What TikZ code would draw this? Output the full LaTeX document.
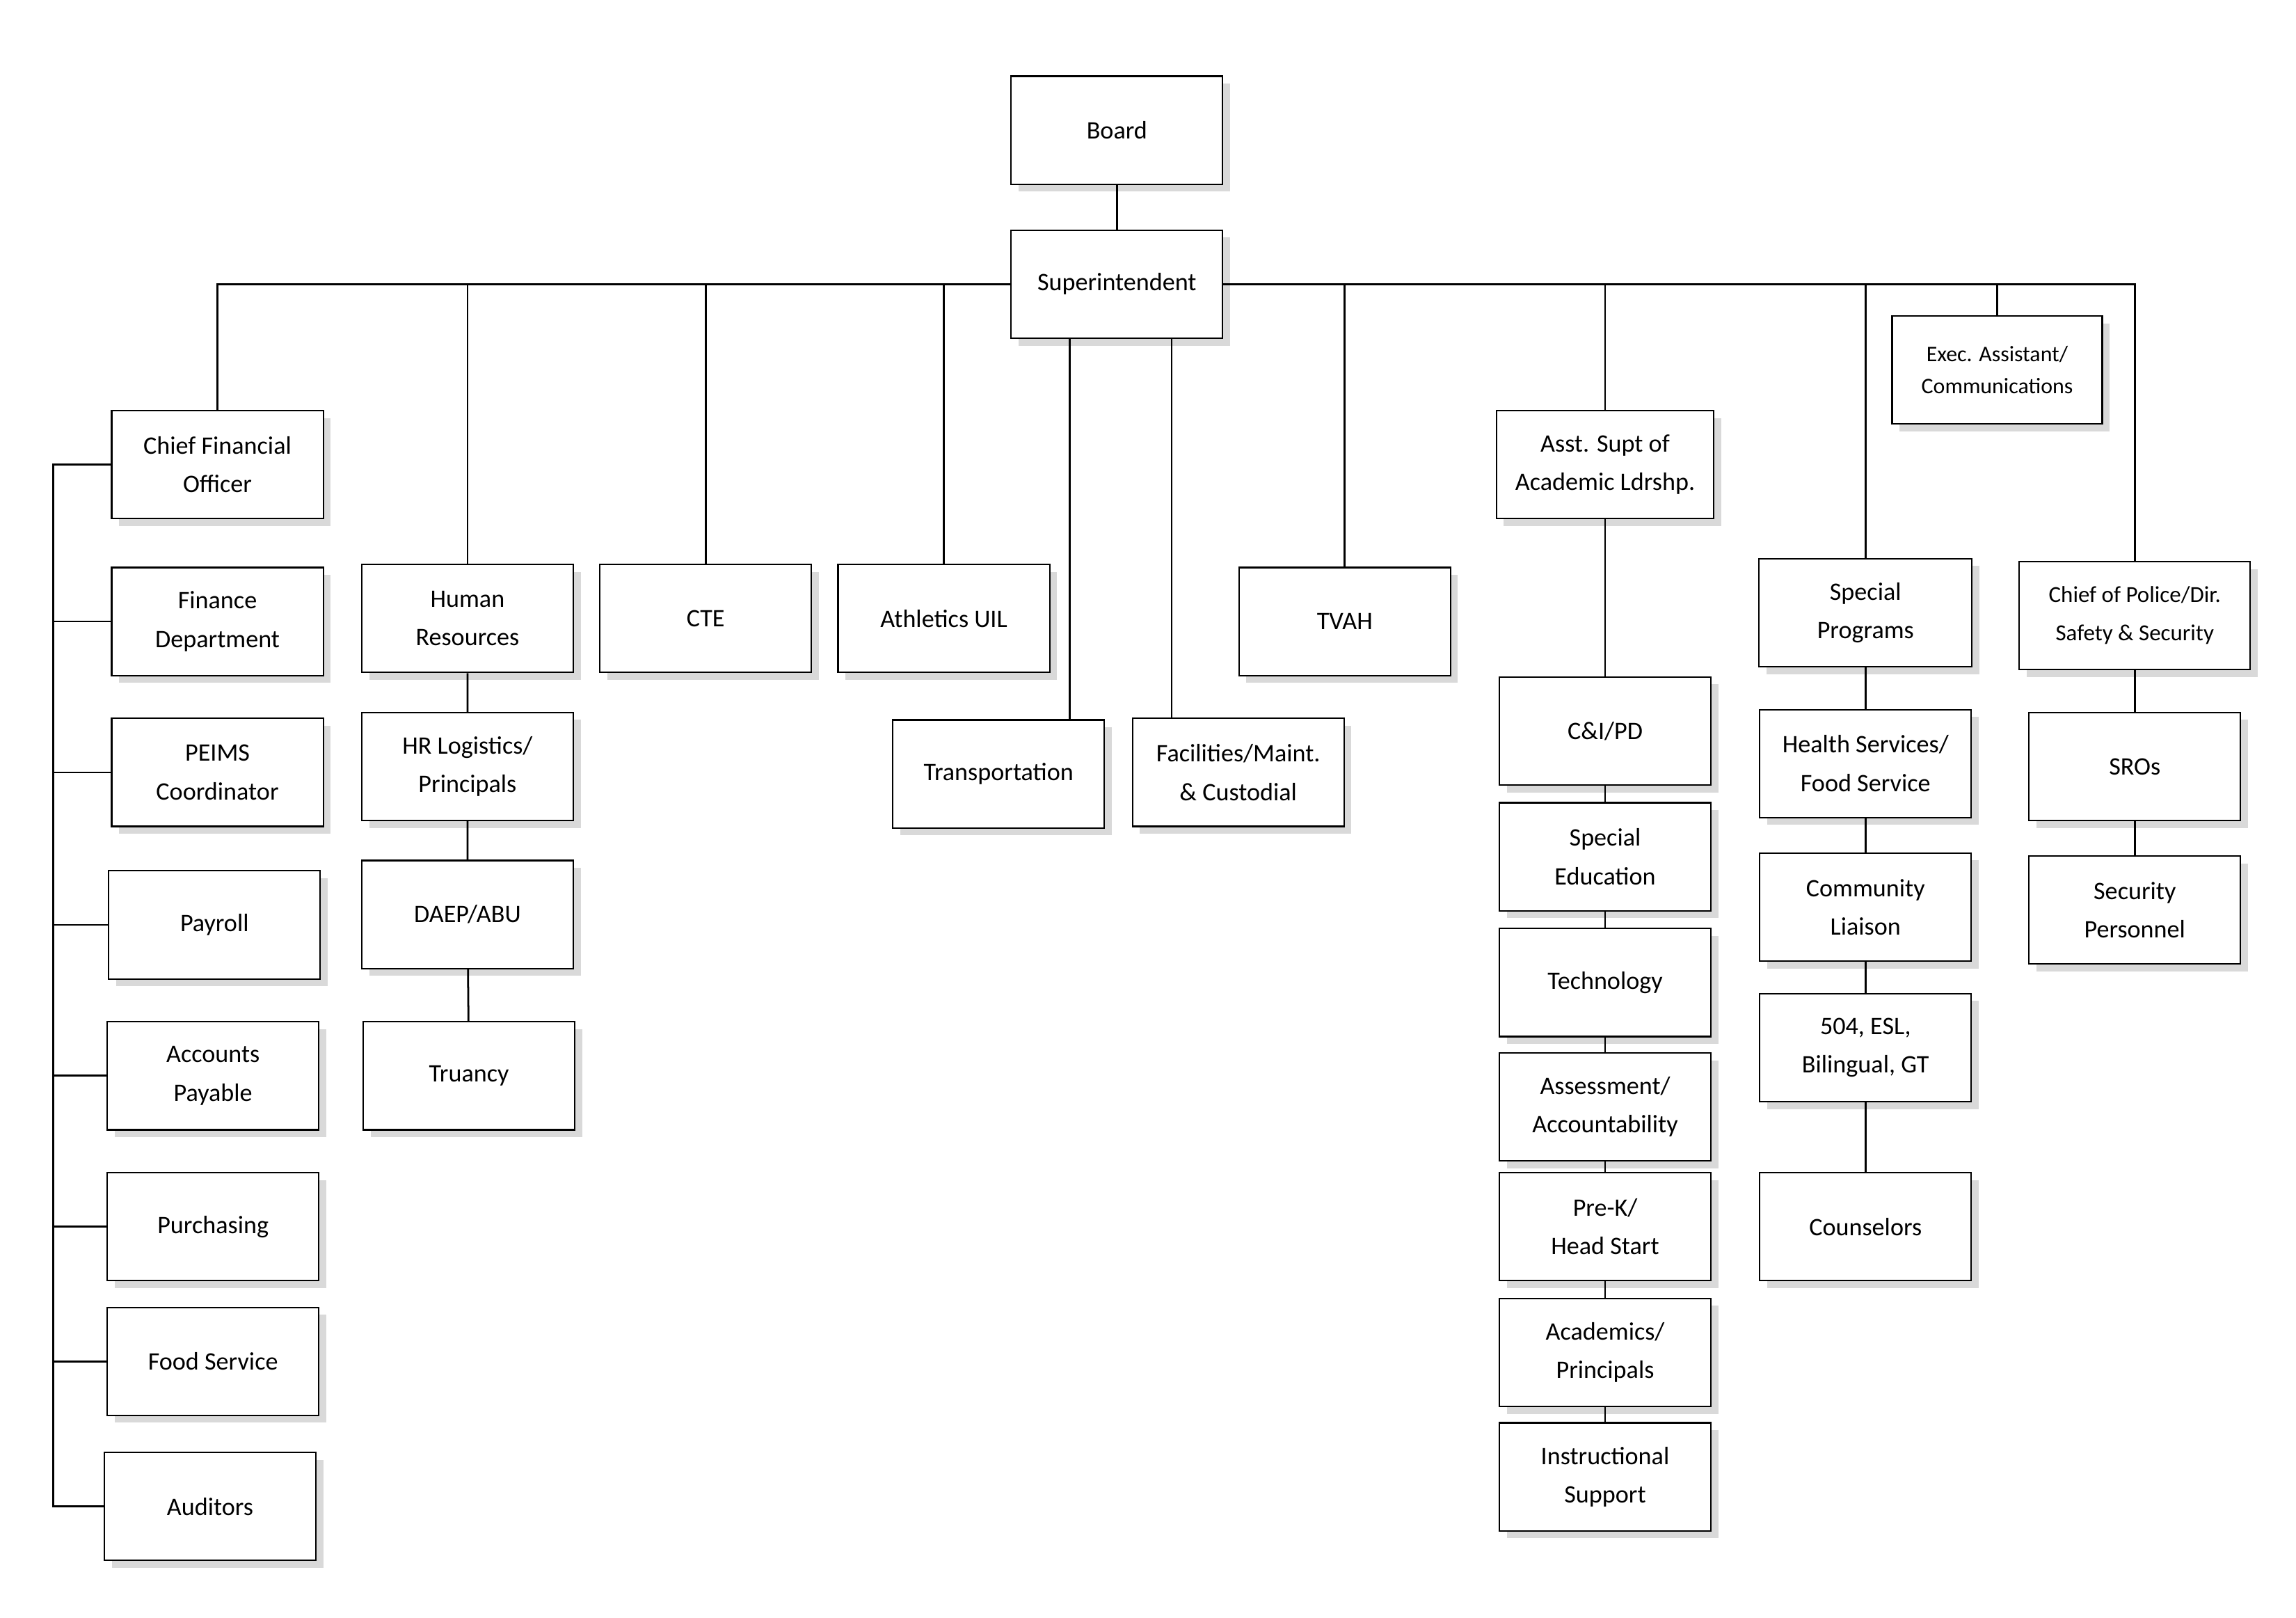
\documentclass[tikz,border=0pt]{standalone}
\usepackage{fontspec}
\setmainfont{Carlito}
\usetikzlibrary{positioning,shadows}

\begin{document}
\begin{tikzpicture}[x=1pt,y=-1pt,line width=1.3pt,
	every node/.style={draw=black,fill=white,line width=1pt,minimum width=143pt,minimum height=73pt,
		align=center,font=\fontsize{17}{26}\selectfont,
		drop shadow={opacity=.3,shadow xshift=5pt,shadow yshift=-5pt}}]

		\useasboundingbox (0,0) rectangle (1552,1093);

		%top
		\node (board) at (755,88) {Board};
		\node (sup) at (755,192) {Superintendent};

		%first row
		\node (cfo) at (147,314) {Chief Financial\\Officer};
		\node (hr) at (316,418) {Human\\Resources};
		\node (cte) at (477,418) {CTE};
		\node (ath) at (638,418) {Athletics UIL};
		\node (trans) at (675,523) {Transportation};
		\node (fac) at (837,522) {Facilities/Maint.\\\& Custodial};
		\node (tvah) at (909,420) {TVAH};
		\node[minimum width=147pt] (asst) at (1085,314) {Asst. Supt of\\Academic Ldrshp.};
		\node[minimum width=142pt,font=\fontsize{15}{22}\selectfont] (exec) at (1350,250) {Exec. Assistant/\\Communications};
		\node[minimum width=144pt] (spec) at (1261,414) {Special\\Programs};
		\node[minimum width=156pt,font=\fontsize{15.5}{26}\selectfont] (pol) at (1443,416) {Chief of Police/Dir.\\Safety \& Security};

		%finance
		\node (fin) at (147,420) {Finance\\Department};
		\node (peims) at (147,522) {PEIMS\\Coordinator};
		\node (pay) at (145,625) {Payroll};
		\node (ap) at (144,727) {Accounts\\Payable};
		\node (purch) at (144,829) {Purchasing};
		\node (food) at (144,920) {Food Service};
		\node (aud) at (142,1018) {Auditors};

		%human resources
		\node (hrl) at (316,518) {HR Logistics/\\Principals};
		\node (daep) at (316,618) {DAEP/ABU};
		\node (tru) at (317,727) {Truancy};

		%academics
		\node (cipd) at (1085,494) {C\&I/PD};
		\node (sped) at (1085,579) {Special\\Education};
		\node (tech) at (1085,664) {Technology};
		\node (assess) at (1085,748) {Assessment/\\Accountability};
		\node (prek) at (1085,829) {Pre-K/\\Head Start};
		\node (acad) at (1085,914) {Academics/\\Principals};
		\node (inst) at (1085,998) {Instructional\\Support};

		%special programs
		\node (health) at (1261,516) {Health Services/\\Food Service};
		\node (comm) at (1261,613) {Community\\Liaison};
		\node (esl) at (1261,708) {504, ESL,\\Bilingual, GT};
		\node (couns) at (1261,829) {Counselors};

		%police
		\node (sro) at (1443,518) {SROs};
		\node (secp) at (1443,615) {Security\\Personnel};

		%edges
		\draw (board) -- (sup);
		\draw (sup.west) -| (cfo.north);
		\draw (sup.east) -| (pol.north);
		\foreach \n in {hr,cte,ath,tvah,asst,exec,spec}
			\draw (\n.north) -- (\n.north |- sup);
		\draw ([xshift=-32pt]sup.south) -- ([xshift=48pt]trans.north);
		\draw ([xshift=37pt]sup.south) -- ([xshift=-45pt]fac.north);

		\coordinate (bus) at (36,0);
		\draw (cfo.west) -- (bus |- cfo.west) -- (bus |- aud.west) -- (aud.west);
		\foreach \n in {fin,peims,pay,ap,purch,food}
			\draw (bus |- \n.west) -- (\n.west);

		\draw (hr) -- (hrl) -- (daep) -- (tru);
		\draw (asst) -- (cipd) -- (sped) -- (tech) -- (assess) -- (prek) -- (acad) -- (inst);
		\draw (spec) -- (health) -- (comm) -- (esl) -- (couns);
		\draw (pol) -- (sro) -- (secp);

		\end{tikzpicture}
\end{document}
